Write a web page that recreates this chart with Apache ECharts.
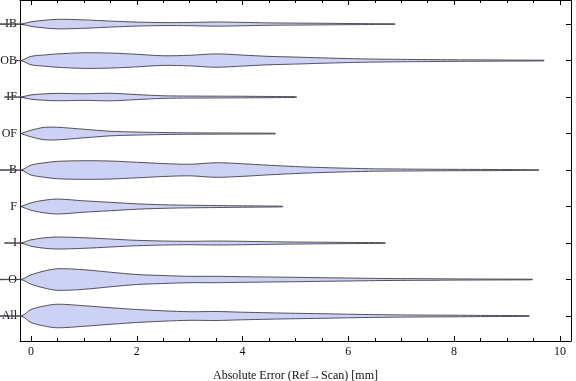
<!DOCTYPE html>
<html>
<head>
<meta charset="utf-8">
<script src="https://cdn.jsdelivr.net/npm/echarts@6/dist/echarts.min.js"></script>
<style>html,body{margin:0;padding:0;background:#fff}#c{width:576px;height:381px}</style>
</head>
<body>
<div id="c"></div>
<script>
// Categories, top to bottom
const categories = ['IB', 'OB', 'IF', 'OF', 'B', 'F', 'I', 'O', 'All'];
// Knots along the error axis (mm) at which the violin half-widths were read
const knots = [0, 0.25, 0.5, 1, 1.5, 2, 2.5, 3, 3.5, 4, 4.5, 5, 5.5, 6, 6.5, 7, 7.5, 8, 8.5, 9, 9.5];
// Half-widths (density readings) at each knot, per category
const densIB  = [2.3, 3.8, 4.8, 4.2, 3.0, 2.0, 1.5, 1.6, 2.1, 1.7, 1.2, 1.0, 0.8, 0.6, 0.4];
const densOB  = [4.2, 5.6, 6.7, 7.8, 7.5, 6.3, 4.8, 5.3, 6.7, 5.5, 4.2, 3.5, 2.7, 2.0, 1.5, 1.2, 1.0, 0.8, 0.7, 0.5, 0.4];
const densIF  = [2.2, 3.2, 3.7, 3.3, 3.8, 2.5, 1.3, 1.0, 0.9, 0.8, 0.6, 0.4];
const densOF  = [3.3, 6.2, 6.3, 4.3, 2.3, 1.5, 1.0, 0.7, 0.6, 0.5, 0.4];
const densB   = [5.0, 7.2, 8.7, 9.3, 9.0, 7.8, 6.5, 5.8, 7.3, 6.3, 4.8, 3.5, 2.5, 1.8, 1.2, 1.0, 0.8, 0.7, 0.6, 0.5, 0.3];
const densF   = [3.7, 6.3, 7.5, 5.7, 4.2, 2.7, 1.8, 1.3, 1.0, 0.7, 0.5];
const densI   = [3.2, 5.2, 6.0, 5.3, 4.0, 2.7, 2.0, 1.7, 2.0, 1.7, 1.3, 1.0, 0.8, 0.6, 0.4];
const densO   = [4.7, 8.5, 10.8, 9.8, 7.3, 5.0, 4.0, 3.2, 3.2, 2.8, 2.5, 2.2, 1.8, 1.5, 1.1, 0.9, 0.8, 0.6, 0.5, 0.4];
const densAll = [6.5, 10.0, 11.8, 10.3, 8.3, 6.5, 5.2, 4.3, 4.5, 3.8, 3.2, 2.7, 2.3, 1.8, 1.4, 1.1, 0.9, 0.8, 0.6, 0.5];
const densities = [densIB, densOB, densIF, densOF, densB, densF, densI, densO, densAll];
// Largest and smallest extent of each violin (mm)
const maxError  = [6.88, 9.70, 5.02, 4.62, 9.60, 4.76, 6.70, 9.48, 9.42];
const tailStart = [-0.59, -0.30, -0.50, -0.20, -0.59, -0.20, -0.50, -0.59, -0.59];
const tipX = -0.18;
// Axis ticks
const majorTicks = [0, 2, 4, 6, 8, 10];
const minorTicks = [0, 0.5, 1, 1.5, 2, 2.5, 3, 3.5, 4, 4.5, 5, 5.5, 6, 6.5, 7, 7.5, 8, 8.5, 9, 9.5, 10];
const catPos = categories.map((c, i) => categories.length - i);

const X_MIN = -0.208, X_MAX = 10.21;
const Y_MIN = 0.315, Y_MAX = 9.66;
const densityScale = 1 / 36.5;
const FONT = '"Liberation Serif", "Times New Roman", serif';
const lineStyle = { color: '#000', width: 1 };

function xAxisDef(pos, ticks, len, showLine, showLabel) {
  return {
    type: 'value', min: X_MIN, max: X_MAX, position: pos, gridIndex: 0,
    axisLine: { show: showLine, onZero: false, lineStyle },
    axisTick: { show: true, inside: true, length: len, customValues: ticks, lineStyle },
    axisLabel: showLabel ? { show: true, customValues: majorTicks, margin: 5, fontFamily: FONT, fontSize: 12, color: '#111' } : { show: false },
    splitLine: { show: false }
  };
}

const xAxes = [
  Object.assign(xAxisDef('bottom', minorTicks, 3, true, true), {
    name: 'Absolute Error (Ref→Scan) [mm]', nameLocation: 'middle', nameGap: 29,
    nameTextStyle: { fontFamily: FONT, fontSize: 12, color: '#111' }
  }),
  xAxisDef('bottom', majorTicks, 5, false, false),
  xAxisDef('top', minorTicks, 3, true, false),
  xAxisDef('top', majorTicks, 5, false, false)
];

const yAxes = [
  {
    type: 'value', min: Y_MIN, max: Y_MAX, position: 'left',
    axisLine: { show: true, onZero: false, lineStyle },
    axisTick: { show: true, inside: true, length: 5, customValues: catPos, lineStyle },
    axisLabel: {
      show: true, customValues: catPos, margin: 3, fontFamily: FONT, fontSize: 12, color: '#111',
      formatter: v => categories[categories.length - Math.round(v)]
    },
    splitLine: { show: false }
  },
  {
    type: 'value', min: Y_MIN, max: Y_MAX, position: 'right',
    axisLine: { show: true, onZero: false, lineStyle },
    axisTick: { show: true, inside: true, length: 5, customValues: catPos, lineStyle },
    axisLabel: { show: false },
    splitLine: { show: false }
  }
];

function renderViolin(params, api) {
  const i = api.value(0);
  const yc = categories.length - i;
  const dens = densities[i];
  const xs = [tailStart[i], tipX];
  const ws = [0.25, 0.25];
  for (let k = 0; k < dens.length; k++) {
    if (knots[k] < maxError[i]) { xs.push(knots[k]); ws.push(dens[k]); }
  }
  xs.push(maxError[i]); ws.push(0.25);
  const upper = [], lower = [];
  for (let k = 0; k < xs.length; k++) {
    const hw = ws[k] * densityScale;
    upper.push(api.coord([xs[k], yc + hw]));
    lower.push(api.coord([xs[k], yc - hw]));
  }
  const pts = upper.concat(lower.reverse());
  return {
    type: 'polygon',
    shape: { points: pts, smooth: 0.3 },
    style: { fill: '#cdd1f3', stroke: 'rgba(55,55,65,0.85)', lineWidth: 1 }
  };
}

const chart = echarts.init(document.getElementById('c'), null, { renderer: 'canvas' });
chart.setOption({
  animation: false,
  backgroundColor: '#fff',
  grid: { left: 20, right: 5, top: 0, bottom: 40, containLabel: false, outerBoundsMode: 'none' },
  xAxis: xAxes,
  yAxis: yAxes,
  series: [{
    type: 'custom',
    xAxisIndex: 0, yAxisIndex: 0,
    clip: false,
    renderItem: renderViolin,
    data: categories.map((c, i) => [i])
  }]
});
</script>
</body>
</html>
